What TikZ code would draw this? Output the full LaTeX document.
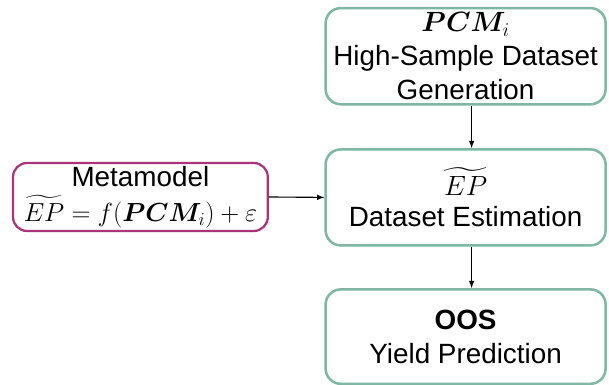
\documentclass[tikz,border=0pt]{standalone}
\usepackage{fix-cm}
\usepackage{fontspec}
\usepackage{amsmath,bm}
\setmainfont{Liberation Sans}
\usetikzlibrary{positioning, calc}
\definecolor{boxgreen}{RGB}{128,182,164}
\definecolor{boxpink}{RGB}{170,52,122}

\begin{document}
\begin{tikzpicture}[step box/.style={rectangle,draw=boxgreen,line width=1.8pt,rounded corners=0.38cm,minimum width=7.0cm,minimum height=2.4cm,align=center,font=\fontsize{19.8}{24}\selectfont}, model box/.style={rectangle,draw=boxpink,line width=1.6pt,rounded corners=0.35cm,minimum width=6.37cm,minimum height=1.7cm,align=center,inner sep=0pt,font=\fontsize{19.8}{22}\selectfont}, flow/.style={-latex, thick, black}]
\useasboundingbox (0,0) rectangle (15.225,9.625);
\node (gen) [step box] at (11.64,8.22) {$\bm{PCM}_i$\\High-Sample Dataset\\Generation};
\node (est) [step box] at (11.64,4.69) {$\widetilde{EP}$\\[-2pt]Dataset Estimation};
\node (oos) [step box, minimum height=2.36cm] at (11.64,1.21) {\textbf{OOS}\\Yield Prediction};
\node (meta) [model box] at (3.51,4.70) {Metamodel\\[3pt]{\fontsize{18.6}{20}\selectfont$\widetilde{EP} = f(\bm{PCM}_i) + \varepsilon$}};
  \begin{scope}
    \draw [flow] ([xshift=0.15cm]gen.south) -- ([xshift=0.15cm]est.north);
    \draw [flow] ([xshift=0.15cm]est.south) -- ([xshift=0.15cm]oos.north);
    \draw [flow] (meta.east) -- (est.west);
  \end{scope}
\end{tikzpicture}
\end{document}
